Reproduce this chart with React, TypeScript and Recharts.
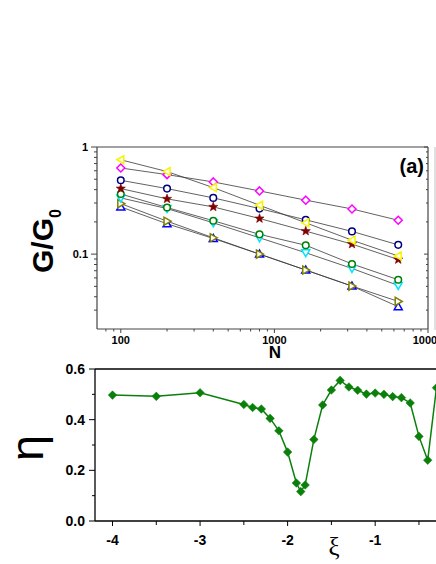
import React from 'react';
import { LineChart, Line, XAxis, YAxis } from 'recharts';

// panel (a): conductance vs chain length, log-log
const chainLengths = [100, 200, 400, 800, 1600, 3200, 6400];
const gYellow = [0.76, 0.59, 0.418, 0.286, 0.196, 0.135, 0.096];
const gMagenta = [0.637, 0.552, 0.472, 0.389, 0.319, 0.264, 0.207];
const gNavy = [0.489, 0.409, 0.335, 0.266, 0.209, 0.163, 0.122];
const gWine = [0.409, 0.328, 0.276, 0.215, 0.164, 0.124, 0.089];
const gGreen = [0.364, 0.272, 0.205, 0.153, 0.121, 0.081, 0.0577];
const gCyan = [0.335, 0.266, 0.196, 0.142, 0.103, 0.0735, 0.051];
const gOlive = [0.296, 0.203, 0.142, 0.1, 0.071, 0.0503, 0.0362];
const gBlue = [0.276, 0.192, 0.14, 0.1, 0.071, 0.0503, 0.0323];

const nTicks = [100, 1000, 10000];
const nMinorTicks = [80, 90, 200, 300, 400, 500, 600, 700, 800, 900, 2000, 3000, 4000, 5000, 6000, 7000, 8000, 9000];
const gTicks = [0.1, 1];
const gMinorTicks = [0.03, 0.04, 0.05, 0.06, 0.07, 0.08, 0.09, 0.2, 0.3, 0.4, 0.5, 0.6, 0.7, 0.8, 0.9];

// panel (b): exponent eta vs xi
const xiValues = [-4, -3.5, -3, -2.5, -2.4, -2.3, -2.2, -2.1, -2.0, -1.9, -1.85, -1.8, -1.7, -1.6, -1.5, -1.4, -1.3, -1.2, -1.1, -1.0, -0.9, -0.8, -0.7, -0.6, -0.5, -0.4, -0.3];
const etaValues = [0.497, 0.492, 0.506, 0.46, 0.448, 0.442, 0.405, 0.356, 0.272, 0.15, 0.116, 0.142, 0.322, 0.458, 0.517, 0.555, 0.529, 0.516, 0.501, 0.505, 0.5, 0.491, 0.487, 0.466, 0.334, 0.24, 0.526];
const xiTicks = [-4, -3, -2, -1, 0];
const xiMinorTicks = [-3.5, -2.5, -1.5, -0.5];
const etaTicks = [0, 0.2, 0.4, 0.6];
const etaMinorTicks = [0.1, 0.3, 0.5];

type Shape = 'up' | 'down' | 'left' | 'right' | 'circle' | 'diamond' | 'star';

const series: { key: string; values: number[]; color: string; shape: Shape }[] = [
  { key: 'blue', values: gBlue, color: '#0000FF', shape: 'up' },
  { key: 'olive', values: gOlive, color: '#808000', shape: 'right' },
  { key: 'cyan', values: gCyan, color: '#00E5FF', shape: 'down' },
  { key: 'green', values: gGreen, color: '#008000', shape: 'circle' },
  { key: 'wine', values: gWine, color: '#800000', shape: 'star' },
  { key: 'navy', values: gNavy, color: '#000080', shape: 'circle' },
  { key: 'magenta', values: gMagenta, color: '#FF00FF', shape: 'diamond' },
  { key: 'yellow', values: gYellow, color: '#F5F500', shape: 'left' },
];

const topRows = chainLengths.map((n, i) => {
  const row: Record<string, number> = { N: n };
  series.forEach((s) => (row[s.key] = s.values[i]));
  return row;
});

const bottomRows = xiValues.map((xi, i) => ({ xi, eta: etaValues[i] }));

const FONT = '"Liberation Sans", Arial, sans-serif';

const Marker = ({ cx, cy, shape, color }: { cx?: number; cy?: number; shape: Shape; color: string }) => {
  if (cx == null || cy == null) return null;
  const common = { stroke: color, strokeWidth: 1.5, fill: '#fff' };
  const s = 4;
  switch (shape) {
    case 'circle':
      return <circle cx={cx} cy={cy} r={3.3} {...common} />;
    case 'diamond':
      return <polygon points={`${cx},${cy - s} ${cx + s},${cy} ${cx},${cy + s} ${cx - s},${cy}`} {...common} />;
    case 'up':
      return <polygon points={`${cx},${cy - s} ${cx + s},${cy + s * 0.75} ${cx - s},${cy + s * 0.75}`} {...common} />;
    case 'down':
      return <polygon points={`${cx},${cy + s} ${cx + s},${cy - s * 0.75} ${cx - s},${cy - s * 0.75}`} {...common} />;
    case 'left':
      return <polygon points={`${cx - s},${cy} ${cx + s * 0.75},${cy - s} ${cx + s * 0.75},${cy + s}`} {...common} />;
    case 'right':
      return <polygon points={`${cx + s},${cy} ${cx - s * 0.75},${cy - s} ${cx - s * 0.75},${cy + s}`} {...common} />;
    case 'star': {
      const pts: string[] = [];
      for (let k = 0; k < 10; k++) {
        const r = k % 2 === 0 ? 4.8 : 2;
        const a = -Math.PI / 2 + (k * Math.PI) / 5;
        pts.push(`${cx + r * Math.cos(a)},${cy + r * Math.sin(a)}`);
      }
      return <polygon points={pts.join(' ')} fill={color} stroke={color} strokeWidth={0.6} />;
    }
  }
  return null;
};

type TickOpts = {
  side: 'bottom' | 'left' | 'top' | 'right';
  majors: number[];
  major: number;
  minor: number;
  color: string;
  gap?: number;
  fontSize?: number;
  fmt?: (v: number) => string;
};

const makeTick = (o: TickOpts) => (props: any) => {
  const { x, y, payload } = props;
  const v = payload.value as number;
  const isMajor = o.majors.some((m) => Math.abs(m - v) < 1e-9);
  const len = isMajor ? o.major : o.minor;
  const lineProps = { stroke: o.color, strokeWidth: 1 };
  let line: React.ReactNode = null;
  let label: React.ReactNode = null;
  const txt = o.fmt ? o.fmt(v) : String(v);
  const textStyle = { fontFamily: FONT, fontWeight: 700, fontSize: o.fontSize, fill: '#000' };
  if (o.side === 'bottom') {
    line = <line x1={x} y1={y} x2={x} y2={y + len} {...lineProps} />;
    if (o.gap && isMajor) label = <text x={x} y={y + o.gap} textAnchor="middle" {...textStyle}>{txt}</text>;
  } else if (o.side === 'left') {
    line = <line x1={x} y1={y} x2={x - len} y2={y} {...lineProps} />;
    if (o.gap && isMajor) label = <text x={x - o.gap} y={y} dy="0.36em" textAnchor="end" {...textStyle}>{txt}</text>;
  } else if (o.side === 'top') {
    line = <line x1={x} y1={y} x2={x} y2={y + len} {...lineProps} />;
  } else {
    line = <line x1={x} y1={y} x2={x - len} y2={y} {...lineProps} />;
  }
  return (
    <g>
      {line}
      {label}
    </g>
  );
};

const topAxisColor = '#444';

const App: React.FC = () => {
  return (
    <div
      style={{
        position: 'absolute',
        left: 0,
        top: 0,
        width: 436,
        height: 564,
        overflow: 'hidden',
        background: '#fff',
        fontFamily: FONT,
      }}
    >
      <div style={{ position: 'absolute', left: 0, top: 130 }}>
        <LineChart width={436} height={230} data={topRows} margin={{ top: 17, right: 8, bottom: 0, left: 0 }}>
          <XAxis
            xAxisId="b"
            dataKey="N"
            type="number"
            scale="log"
            domain={[70, 10000]}
            allowDataOverflow
            ticks={[...nTicks, ...nMinorTicks]}
            interval={0}
            height={31}
            tickSize={0}
            tickMargin={0}
            tickLine={false}
            axisLine={{ stroke: topAxisColor, strokeWidth: 1.2 }}
            tick={makeTick({ side: 'bottom', majors: nTicks, major: 4, minor: 2.5, color: topAxisColor, gap: 14.5, fontSize: 11 })}
          />
          <XAxis
            xAxisId="t"
            orientation="top"
            mirror
            type="number"
            scale="log"
            domain={[70, 10000]}
            allowDataOverflow
            ticks={[...nTicks, ...nMinorTicks]}
            interval={0}
            tickSize={0}
            tickMargin={0}
            tickLine={false}
            axisLine={{ stroke: topAxisColor, strokeWidth: 1.2 }}
            tick={makeTick({ side: 'top', majors: nTicks, major: 3.5, minor: 2, color: topAxisColor })}
          />
          <YAxis
            yAxisId="l"
            type="number"
            scale="log"
            domain={[0.02, 1]}
            allowDataOverflow
            ticks={[...gTicks, ...gMinorTicks]}
            interval={0}
            width={97}
            tickSize={0}
            tickMargin={0}
            tickLine={false}
            axisLine={{ stroke: topAxisColor, strokeWidth: 1.2 }}
            tick={makeTick({ side: 'left', majors: gTicks, major: 6, minor: 3, color: topAxisColor, gap: 9, fontSize: 11 })}
          />
          <YAxis
            yAxisId="r"
            orientation="right"
            mirror
            type="number"
            scale="log"
            domain={[0.02, 1]}
            allowDataOverflow
            ticks={[...gTicks, ...gMinorTicks]}
            interval={0}
            tickSize={0}
            tickMargin={0}
            tickLine={false}
            axisLine={{ stroke: topAxisColor, strokeWidth: 1.2 }}
            tick={makeTick({ side: 'right', majors: gTicks, major: 4, minor: 2, color: topAxisColor })}
          />
          {series.map((s) => (
            <Line
              key={s.key}
              xAxisId="b"
              yAxisId="l"
              dataKey={s.key}
              stroke="#3a3a3a"
              strokeWidth={0.8}
              isAnimationActive={false}
              activeDot={false}
              dot={(p: any) => <Marker key={`${s.key}-${p.index}`} cx={p.cx} cy={p.cy} shape={s.shape} color={s.color} />}
            />
          ))}
        </LineChart>
      </div>

      <div style={{ position: 'absolute', left: 0, top: 340 }}>
        <LineChart width={489} height={224} data={bottomRows} margin={{ top: 29, right: 0, bottom: 0, left: 0 }}>
          <XAxis
            xAxisId="b"
            dataKey="xi"
            type="number"
            domain={[-4.2, 0.3]}
            allowDataOverflow
            ticks={[...xiTicks, ...xiMinorTicks]}
            interval={0}
            height={43}
            tickSize={0}
            tickMargin={0}
            tickLine={false}
            axisLine={{ stroke: '#000', strokeWidth: 1.3 }}
            tick={makeTick({ side: 'bottom', majors: xiTicks, major: 5, minor: 4, color: '#000', gap: 24, fontSize: 14 })}
          />
          <XAxis
            xAxisId="t"
            orientation="top"
            mirror
            type="number"
            domain={[-4.2, 0.3]}
            allowDataOverflow
            tick={false}
            tickLine={false}
            axisLine={{ stroke: '#000', strokeWidth: 1.3 }}
          />
          <YAxis
            yAxisId="l"
            type="number"
            domain={[0, 0.6]}
            allowDataOverflow
            ticks={[...etaTicks, ...etaMinorTicks]}
            interval={0}
            width={95}
            tickSize={0}
            tickMargin={0}
            tickLine={false}
            axisLine={{ stroke: '#000', strokeWidth: 1.3 }}
            tick={makeTick({ side: 'left', majors: etaTicks, major: 6, minor: 3, color: '#000', gap: 10, fontSize: 14, fmt: (v) => v.toFixed(1) })}
          />
          <Line
            xAxisId="b"
            yAxisId="l"
            dataKey="eta"
            stroke="#0a800a"
            strokeWidth={1.5}
            isAnimationActive={false}
            activeDot={false}
            dot={(p: any) =>
              p.cx == null ? <g key={p.index} /> : (
                <polygon
                  key={p.index}
                  points={`${p.cx},${p.cy - 4.3} ${p.cx + 4.3},${p.cy} ${p.cx},${p.cy + 4.3} ${p.cx - 4.3},${p.cy}`}
                  fill="#0a800a"
                  stroke="#0a800a"
                  strokeWidth={0.5}
                />
              )
            }
          />
        </LineChart>
      </div>

      <svg width={436} height={564} style={{ position: 'absolute', left: 0, top: 0, pointerEvents: 'none' }}>
        <line x1={435} y1={147} x2={435} y2={330} stroke="#d6d6d6" strokeWidth={1.5} />
        <text x={53} y={241} transform="rotate(-90, 53, 241)" textAnchor="middle" fontFamily={FONT} fontWeight={700} fontSize={30}>
          G/G<tspan fontSize={16} dy={8}>0</tspan>
        </text>
        <text x={275} y={358} textAnchor="middle" fontFamily={FONT} fontWeight={700} fontSize={17}>
          N
        </text>
        <text x={424} y={173} textAnchor="end" fontFamily={FONT} fontWeight={700} fontSize={20}>
          (a)
        </text>
        <text x={43} y={448} transform="rotate(-90, 43, 448)" textAnchor="middle" fontFamily={FONT} fontSize={47}>
          η
        </text>
        <text x={334} y={555} textAnchor="middle" fontFamily='"Liberation Serif", "Times New Roman", serif' fontSize={25}>
          ξ
        </text>
      </svg>
    </div>
  );
};

export default App;
